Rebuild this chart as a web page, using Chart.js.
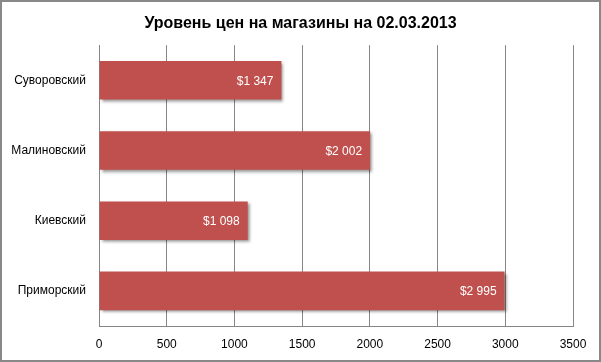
<!DOCTYPE html>
<html>
<head>
<meta charset="utf-8">
<script src="https://cdn.jsdelivr.net/npm/chart.js@4.4.1/dist/chart.umd.min.js"></script>
<style>
  html, body { margin: 0; padding: 0; background: #fff; }
  #box { width: 601px; height: 362px; position: relative; }
</style>
</head>
<body>
<div id="box"><canvas id="cBar" width="601" height="362"></canvas></div>
<script>
const titulo    = "Уровень цен на магазины на 02.03.2013";
const magazinos = ["Суворовский", "Малиновский", "Киевский", "Приморский"];
const precos    = [1347, 2002, 1098, 2995];
const xTicks    = [0, 500, 1000, 1500, 2000, 2500, 3000, 3500];

const fonte = "'Liberation Sans', Arial, sans-serif";

/* ── formato $1 347 ── */
function fmtPreco(v) {
  return "$" + String(v).replace(/\B(?=(\d{3})+(?!\d))/g, " ");
}

/* fundo branco + moldura cinza; título centrado na largura toda */
const moldura = {
  id: "moldura",
  afterLayout(chart) {
    if (chart.titleBlock) {
      chart.titleBlock.left = 0;
      chart.titleBlock.right = chart.width;
      chart.titleBlock.width = chart.width;
    }
  },
  beforeDraw(chart) {
    const c = chart.ctx;
    c.save();
    c.fillStyle = "#fff";
    c.fillRect(0, 0, chart.width, chart.height);
    c.strokeStyle = "#888";
    c.lineWidth = 2;
    c.strokeRect(1, 1, chart.width - 2, chart.height - 2);
    c.restore();
  }
};

/* sombra das barras */
const sombra = {
  id: "sombra",
  beforeDatasetsDraw(chart) {
    const c = chart.ctx;
    c.save();
    c.shadowColor = "rgba(0,0,0,0.45)";
    c.shadowBlur = 3;
    c.shadowOffsetX = 2;
    c.shadowOffsetY = 2;
  },
  afterDatasetsDraw(chart) {
    chart.ctx.restore();
  }
};

/* rótulos dentro da ponta da barra */
const rotulos = {
  id: "rotulos",
  afterDatasetsDraw(chart) {
    const c = chart.ctx;
    const meta = chart.getDatasetMeta(0);
    c.save();
    c.fillStyle = "#fff";
    c.font = "12px " + fonte;
    c.textAlign = "right";
    c.textBaseline = "middle";
    meta.data.forEach((bar, i) => {
      c.fillText(fmtPreco(precos[i]), bar.x - 8, bar.y + 1);
    });
    c.restore();
  }
};

new Chart(document.getElementById("cBar"), {
  type: "bar",
  data: {
    labels: magazinos,
    datasets: [{
      data: precos,
      backgroundColor: "#C0504D",
      borderWidth: 0,
      categoryPercentage: 1,
      barPercentage: 0.55
    }]
  },
  options: {
    indexAxis: "y",
    responsive: false,
    animation: false,
    layout: { padding: { top: 0, right: 28, left: 0, bottom: 0 } },
    plugins: {
      legend: { display: false },
      tooltip: { enabled: false },
      title: {
        display: true,
        text: titulo,
        color: "#000",
        font: { family: fonte, size: 16, weight: "bold" },
        padding: { top: 14, bottom: 12 }
      }
    },
    scales: {
      x: {
        min: 0, max: 3500,
        afterBuildTicks(ax) { ax.ticks = xTicks.map(v => ({ value: v })); },
        afterFit(ax) { ax.height = 36; },
        grid: { color: "#868686", drawTicks: false },
        border: { color: "#868686" },
        ticks: {
          color: "#000", padding: 11,
          font: { family: fonte, size: 12 },
          callback: v => String(v)
        }
      },
      y: {
        afterFit(ax) { ax.width = 99; },
        grid: { display: false, drawTicks: false },
        border: { color: "#868686" },
        ticks: { color: "#000", padding: 13, font: { family: fonte, size: 12 } }
      }
    }
  },
  plugins: [moldura, sombra, rotulos]
});
</script>
</body>
</html>
